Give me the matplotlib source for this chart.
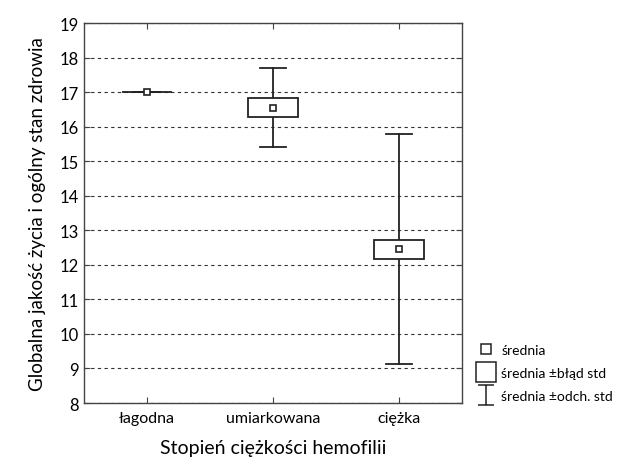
import numpy as np
import matplotlib.pyplot as plt
from matplotlib.lines import Line2D
from matplotlib.patches import Rectangle
from matplotlib.path import Path

plt.rcParams['font.family'] = ['Lato', 'DejaVu Sans']

categories = ['łagodna', 'umiarkowana', 'ciężka']
means = [17.0, 16.55, 12.45]
std_err = [0.0, 0.28, 0.28]
std_dev = [0.0, 1.15, 3.33]

fig = plt.figure(figsize=(6.19, 4.6), dpi=100)
ax = fig.add_axes([0.1357, 0.1217, 0.6107, 0.8261])

box_w = 0.4
cap_w = 0.2
for i, (m, se, sd) in enumerate(zip(means, std_err, std_dev)):
    # whiskers (mean +/- sd)
    ax.plot([i, i], [m + se, m + sd], color='#222222', lw=1.3, zorder=3)
    ax.plot([i, i], [m - sd, m - se], color='#222222', lw=1.3, zorder=3)
    ax.plot([i - cap_w / 2, i + cap_w / 2], [m + sd] * 2, color='#222222', lw=1.3, zorder=3)
    ax.plot([i - cap_w / 2, i + cap_w / 2], [m - sd] * 2, color='#222222', lw=1.3, zorder=3)
    # box (mean +/- se)
    ax.add_patch(Rectangle((i - box_w / 2, m - se), box_w, 2 * se,
                           facecolor='white', edgecolor='#222222', lw=1.3, zorder=4))
    # mean
    ax.plot(i, m, marker='s', ms=5, mfc='white', mec='#222222', mew=1.2, zorder=5)

ax.set_xlim(-0.5, 2.5)
ax.set_ylim(8, 19)
ax.set_xticks(range(len(categories)))
ax.set_xticklabels(categories, fontsize=11.5)
ax.set_yticks(np.arange(8, 20, 1))
ax.tick_params(axis='y', labelsize=12)
ax.tick_params(axis='x', pad=6)
ax.tick_params(direction='in', top=True, right=True, length=4, color='#444444')
ax.grid(axis='y', linestyle=(0, (3, 3)), color='#333333', lw=0.8)
ax.set_axisbelow(True)
for s in ax.spines.values():
    s.set_color('#444444')
    s.set_linewidth(1.0)

ax.set_xlabel('Stopień ciężkości hemofilii', fontsize=14, labelpad=10)
ax.set_ylabel('Globalna jakość życia i ogólny stan zdrowia', fontsize=13.5, labelpad=10)

ibeam = Path([(-0.8, -1), (0.8, -1), (0, -1), (0, 1), (-0.8, 1), (0.8, 1)],
             [Path.MOVETO, Path.LINETO, Path.MOVETO, Path.LINETO, Path.MOVETO, Path.LINETO])
handles = [
    Line2D([], [], ls='none', marker='s', ms=7, mfc='white', mec='#222222', mew=1.1),
    Line2D([], [], ls='none', marker='s', ms=14, mfc='white', mec='#222222', mew=1.1),
    Line2D([], [], ls='none', marker=ibeam, ms=15, mec='#222222', mew=1.1),
]
labels = ['średnia', 'średnia ±błąd std', 'średnia ±odch. std']
fig.legend(handles, labels, loc='upper left', bbox_to_anchor=(0.765, 0.262),
           frameon=False, fontsize=10, handlelength=1.0, handletextpad=0.6,
           labelspacing=0.8, borderaxespad=0)

fig.savefig('out.png', dpi=100)
